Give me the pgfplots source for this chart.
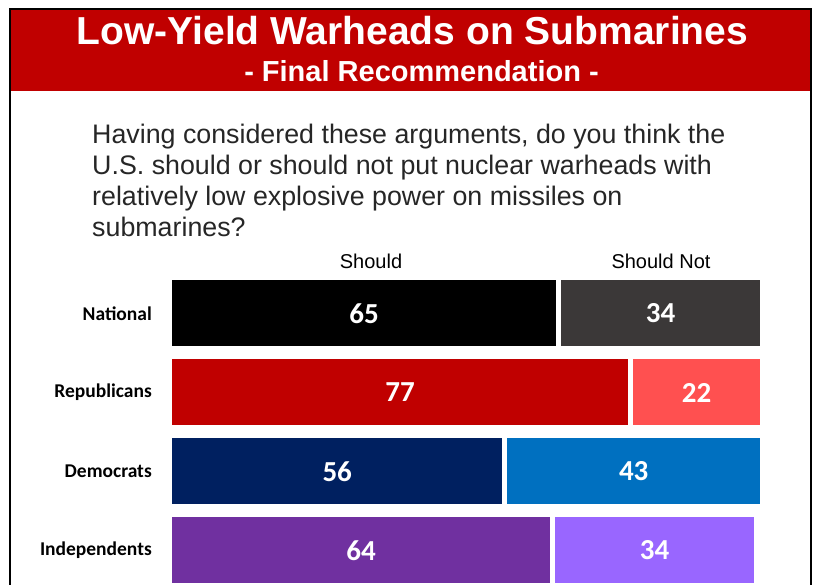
\documentclass[border=0pt]{standalone}
\usepackage{pgfplots}
\pgfplotsset{compat=1.18}
\usepackage{pgfplotstable}
\usepackage{fontspec}
\setmainfont{Liberation Sans}
\newfontfamily\calibri{Carlito}

\definecolor{banner}{HTML}{C00000}
\definecolor{natA}{HTML}{000000}
\definecolor{natB}{HTML}{3B3838}
\definecolor{repA}{HTML}{C00000}
\definecolor{repB}{HTML}{FF5050}
\definecolor{demA}{HTML}{002060}
\definecolor{demB}{HTML}{0070C0}
\definecolor{indA}{HTML}{7030A0}
\definecolor{indB}{HTML}{9966FF}

% idx: 0 National, 1 Republicans, 2 Democrats, 3 Independents
\pgfplotstableread{
idx should shouldnot
0 65 34
1 77 22
2 56 43
3 64 34
}\votes

\begin{document}
\begin{tikzpicture}[x=1pt,y=1pt]
\useasboundingbox (0,0) rectangle (819,585);

% banner + frame
\fill[banner] (11,575) rectangle (810,494);
\draw[line width=2pt] (10,-5) -- (10,576) -- (811,576) -- (811,-5);
\node[anchor=base, inner sep=0pt, text=white, font=\fontsize{39}{39}\selectfont\bfseries]
  at (412.5,540) {Low-Yield Warheads on Submarines};
\node[anchor=base, inner sep=0pt, text=white, font=\fontsize{29}{29}\selectfont\bfseries]
  at (421.5,503) {- Final Recommendation -};

% question
\begin{scope}[every node/.style={anchor=base west, inner sep=0pt, font=\fontsize{26.8}{27}\selectfont, text=black!85}]
\node at (92,441) {Having considered these arguments, do you think the};
\node at (92,410) {U.S. should or should not put nuclear warheads with};
\node at (92,379) {relatively low explosive power on missiles on};
\node at (92,348) {submarines?};
\end{scope}

% column headers
\node[anchor=base, inner sep=0pt, font=\fontsize{20}{20}\selectfont] at (371,316) {Should};
\node[anchor=base, inner sep=0pt, font=\fontsize{20}{20}\selectfont] at (661,316) {Should Not};

\begin{axis}[
  at={(169.5pt,311pt)}, anchor=north west,
  scale only axis, width=599pt, height=316pt,
  xmin=0, xmax=100, ymin=-0.5, ymax=3.5, y dir=reverse,
  axis line style={draw=none}, tick style={draw=none},
  xtick=\empty, ytick={0,1,2,3},
  yticklabels={National,Republicans,Democrats,Independents},
  yticklabel style={font=\calibri\bfseries\fontsize{19.5}{20}\selectfont, inner sep=0pt, xshift=-17.5pt},
  clip=false,
  bars/.style={xbar, bar shift=0pt, bar width=71pt, draw=white, line width=5pt},
  vals/.style={draw=none, nodes near coords, point meta=explicit symbolic,
    nodes near coords align=center,
    every node near coord/.append style={anchor=center, text=white,
      font=\calibri\bfseries\fontsize{29}{29}\selectfont}},
]
% "should not" segments (drawn full length, then covered by "should")
\addplot[bars, fill=natB, restrict y to domain=-0.2:0.2] table[x expr=\thisrow{should}+\thisrow{shouldnot}, y=idx]{\votes};
\addplot[bars, fill=repB, restrict y to domain=0.8:1.2] table[x expr=\thisrow{should}+\thisrow{shouldnot}, y=idx]{\votes};
\addplot[bars, fill=demB, restrict y to domain=1.8:2.2] table[x expr=\thisrow{should}+\thisrow{shouldnot}, y=idx]{\votes};
\addplot[bars, fill=indB, restrict y to domain=2.8:3.2] table[x expr=\thisrow{should}+\thisrow{shouldnot}, y=idx]{\votes};
% "should" segments
\addplot[bars, fill=natA, restrict y to domain=-0.2:0.2] table[x=should, y=idx]{\votes};
\addplot[bars, fill=repA, restrict y to domain=0.8:1.2] table[x=should, y=idx]{\votes};
\addplot[bars, fill=demA, restrict y to domain=1.8:2.2] table[x=should, y=idx]{\votes};
\addplot[bars, fill=indA, restrict y to domain=2.8:3.2] table[x=should, y=idx]{\votes};
% value labels
\addplot[vals] table[x expr=\thisrow{should}/2, y=idx, meta=should]{\votes};
\addplot[vals] table[x expr=\thisrow{should}+\thisrow{shouldnot}/2, y=idx, meta=shouldnot]{\votes};
\end{axis}
\end{tikzpicture}
\end{document}
